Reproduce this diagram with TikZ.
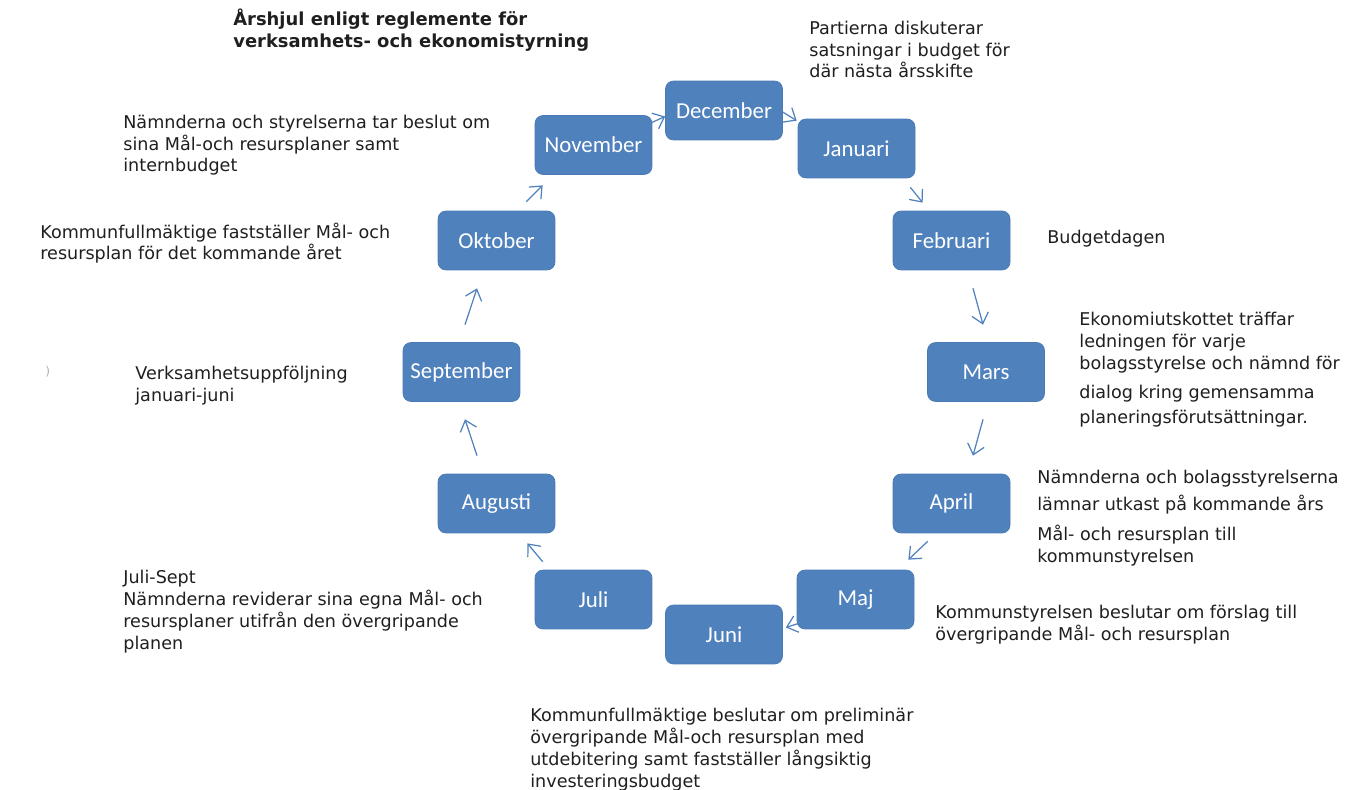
\documentclass[tikz,border=0pt]{standalone}
\usepackage{fontspec}
\setmainfont{DejaVu Sans}
\newfontfamily\boxfont{Carlito}
\usetikzlibrary{arrows.meta}
\definecolor{boxblue}{HTML}{4F81BD}
\definecolor{boxedge}{HTML}{4A7AB5}
\tikzset{
	month/.style = {draw = boxedge, fill = boxblue, rounded corners = 0.16cm, minimum width = 2.34cm, minimum height = 1.18cm, inner sep = 0pt, text = white, font = \boxfont\fontsize{13}{15}\selectfont},
	note/.style = {anchor = base west, align = left, inner sep = 0pt, text = black!88, font = \fontsize{10}{12.5}\selectfont},
	pil/.style = {draw = boxblue, line width = 0.7pt, -{Straight Barb[length = 2mm, width = 3.4mm]}}
}
\begin{document}
\begin{tikzpicture} [x = 0.02cm, y = -0.02cm]
	\useasboundingbox (0,0) rectangle (1362,790);
	% the twelve months
	\node [month] (dec) at (724,110.5) {December};
	\node [month] (jan) at (856.5,148.5) {Januari};
	\node [month] (feb) at (951.5,240.5) {Februari};
	\node [month] (mar) at (986,372) {Mars};
	\node [month] (apr) at (951.5,503.5) {April};
	\node [month] (maj) at (855.5,599.5) {Maj};
	\node [month] (jun) at (724,634.5) {Juni};
	\node [month] (jul) at (593.5,599.5) {Juli};
	\node [month] (aug) at (496.5,503.5) {Augusti};
	\node [month] (sep) at (461.5,372) {September};
	\node [month] (okt) at (496.5,240.5) {Oktober};
	\node [month] (nov) at (593.5,145) {November};
	% arrows round the wheel
	\draw [pil] ([shift = {(-2,8)}]nov.north east) -- ([shift = {(0,6)}]dec.west);
	\draw [pil] ([shift = {(-1,1)}]dec.east) -- ([shift = {(-1,2)}]jan.north west);
	\draw [pil] ([shift = {(-5,9)}]jan.south east) -- ([shift = {(30,-8)}]feb.north west);
	\draw [pil] ([shift = {(21.5,18)}]feb.south) -- ([shift = {(-3,-17.5)}]mar.north);
	\draw [pil] ([shift = {(-3,17.5)}]mar.south) -- ([shift = {(21.5,-18)}]apr.north);
	\draw [pil] ([shift = {(35,8)}]apr.south west) -- ([shift = {(-6,-10)}]maj.north east);
	\draw [pil] ([shift = {(2,-6)}]maj.south west) -- ([shift = {(3,-7)}]jun.east);
	\draw [pil] ([shift = {(8,-8)}]jul.north west) -- ([shift = {(-28,10)}]aug.south east);
	\draw [pil] ([shift = {(-19.5,-18)}]aug.north) -- ([shift = {(3.5,17.5)}]sep.south);
	\draw [pil] ([shift = {(3.5,-17.5)}]sep.north) -- ([shift = {(-19.5,18)}]okt.south);
	\draw [pil] ([shift = {(-29,-9)}]okt.north east) -- ([shift = {(8,10.5)}]nov.south west);
	% texts (placed at the baseline of their last line)
	\node [note, font = \bfseries\fontsize{10.2}{12.8}\selectfont] (titel) at (233,48) {Årshjul enligt reglemente för\\verksamhets- och ekonomistyrning};
	\node [note] (partier) at (809,78) {Partierna diskuterar\\satsningar i budget för\\där nästa årsskifte};
	\node [note] (nambeslut) at (123,172) {Nämnderna och styrelserna tar beslut om\\sina Mål-och resursplaner samt\\internbudget};
	\node [note] (kffast) at (40,260) {Kommunfullmäktige fastställer Mål- och\\resursplan för det kommande året};
	\node [note] (budgetdag) at (1047,244) {Budgetdagen};
	\node [note] (ekonomi) at (1079,423) {Ekonomiutskottet träffar\\ledningen för varje\\bolagsstyrelse och nämnd för\\[4pt]dialog kring gemensamma\\[1.7pt]planeringsförutsättningar.};
	\node [note] (uppfolj) at (135,401) {Verksamhetsuppföljning\\januari-juni};
	\node [note, text = black!30, font = \fontsize{7}{8}\selectfont] (parentes) at (45,376) {)};
	\node [note] (utkast) at (1037,562) {Nämnderna och bolagsstyrelserna\\[2.8pt]lämnar utkast på kommande års\\[4.5pt]Mål- och resursplan till\\kommunstyrelsen};
	\node [note] (revider) at (123,649) {Juli-Sept\\Nämnderna reviderar sina egna Mål- och\\resursplaner utifrån den övergripande\\planen};
	\node [note] (ksforslag) at (935,640) {Kommunstyrelsen beslutar om förslag till\\övergripande Mål- och resursplan};
	\node [note] (kfprelim) at (530,787) {Kommunfullmäktige beslutar om preliminär\\övergripande Mål-och resursplan med\\utdebitering samt fastställer långsiktig\\investeringsbudget};
\end{tikzpicture}
\end{document}
